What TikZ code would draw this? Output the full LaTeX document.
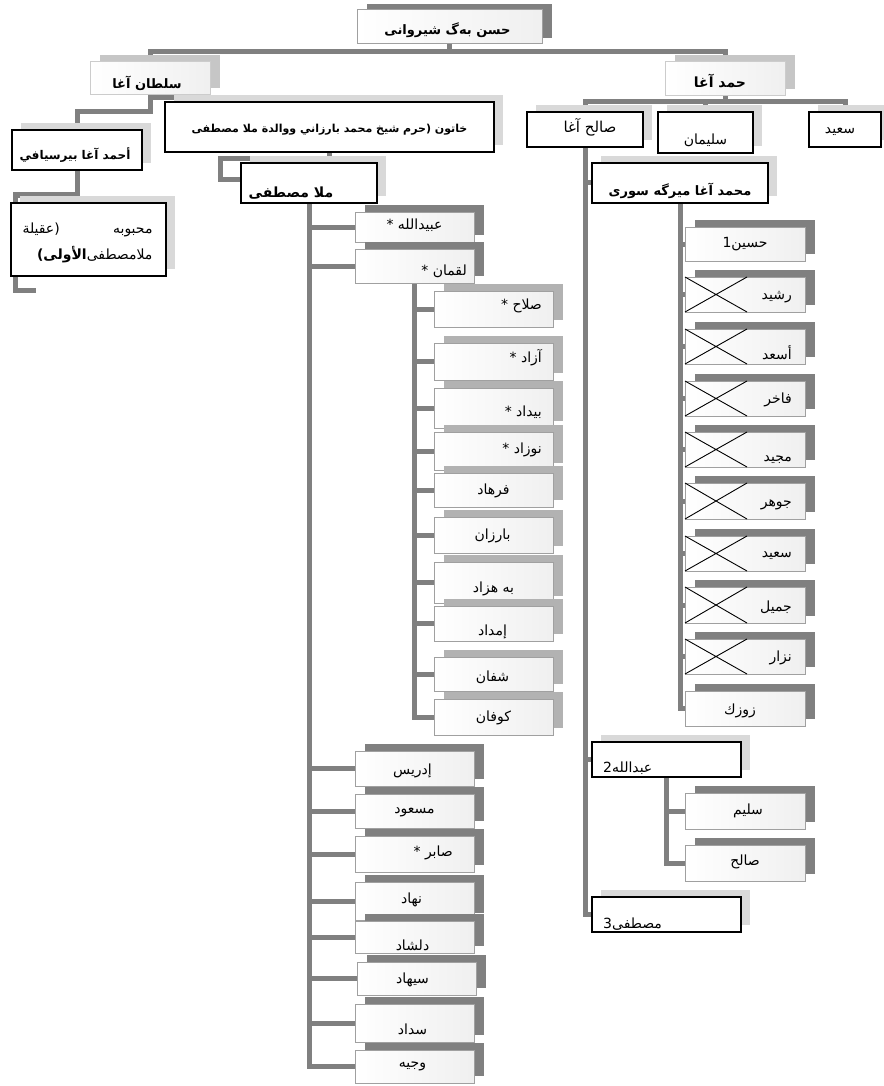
\documentclass[tikz,border=0pt]{standalone}
\usepackage{fontspec}
\usetikzlibrary{shadows}
\TeXXeTstate=1
\newfontfamily\ar[Script=Arabic]{DejaVu Sans}
\pgfdeclarelayer{back}
\pgfdeclarelayer{bg}
\pgfsetlayers{back,bg,main}
\definecolor{lnk}{HTML}{808080}
\definecolor{bord}{HTML}{A0A0A0}
\tikzset{
  base/.style={rectangle, inner sep=0pt, outer sep=0pt},
  conn/.style={draw=lnk, line width=5pt},
  topb/.style={base, draw=bord, line width=1pt, left color=white, right color=gray!12,
    general shadow={fill=lnk, shadow xshift=9.5pt, shadow yshift=6pt}},
  midb/.style={base, draw=gray!40, line width=1pt, left color=white, right color=gray!12,
    general shadow={fill=gray!45, shadow xshift=9.5pt, shadow yshift=6.5pt}},
  blk/.style={base, draw=black, line width=1.3pt, fill=white,
    general shadow={fill=gray!30, shadow xshift=9pt, shadow yshift=7pt}},
  kid/.style={base, draw=bord, line width=1pt, left color=white, right color=gray!12,
    general shadow={fill=lnk, shadow xshift=9.5pt, shadow yshift=7pt}},
  lkid/.style={base, draw=bord, line width=1pt, left color=white, right color=gray!12,
    general shadow={fill=gray!60, shadow xshift=9.5pt, shadow yshift=7pt}},
  txt/.style={inner sep=0pt, yshift=-2.5pt, font=\ar\fontsize{14}{16}\selectfont},
  btxt/.style={inner sep=0pt, font=\ar\bfseries\fontsize{13}{15}\selectfont},
  xm/.style={draw=black, line width=0.9pt}
}
\newcommand\bx[6]{\node[#1,anchor=north west,minimum width={(#5-#3)*1pt},minimum height={(#6-#4)*1pt}] (#2) at (#3,#4) {};}
\newcommand\tx[4][]{\node[txt,#1] (#2t) at #3 {#4};}
\begin{document}
\begin{tikzpicture}[x=1pt,y=-1pt]
\useasboundingbox (0,0) rectangle (883,1086);
\begin{pgfonlayer}{back}
\fill[white] (0,0) rectangle (883,1086);
\end{pgfonlayer}

% ---------- top levels ----------
\bx{topb}{top}{357}{10}{542}{44}
\tx[btxt]{top}{([shift={(-2,1)}]top.center)}{\beginR حسن بەگ شيروانى\endR}
\bx{midb}{sultan}{90}{62}{210}{95}
\tx[btxt]{sultan}{([shift={(-3,2)}]sultan.center)}{\beginR سلطان آغا\endR}
\bx{midb}{hamad}{665}{62}{785}{96}
\tx[btxt,font=\ar\bfseries\fontsize{14}{16}\selectfont]{hamad}{([shift={(-5,0)}]hamad.center)}{\beginR حمد آغا\endR}

\bx{blk}{khatun}{165}{102}{494}{152}
\tx[btxt,font=\ar\bfseries\fontsize{11}{13}\selectfont]{khatun}{([shift={(0,0)}]khatun.center)}{\beginR خاتون \hbox{(}حرم شيخ محمد بارزاني ووالدة ملا مصطفى\endR}
\bx{blk}{ahmad}{12}{130}{142}{170}
\tx[btxt,font=\ar\bfseries\fontsize{12}{14}\selectfont]{ahmad}{([shift={(-2,3)}]ahmad.center)}{\beginR أحمد آغا بيرسيافي\endR}
\bx{blk}{mahb}{11}{203}{166}{276}
\node[txt, font=\ar\fontsize{14}{26}\selectfont, text width=130pt, align=right] (mahbt) at ([shift={(-1,1)}]mahb.center)
  {\hbox to 130pt{\beginR محبوبه\hfill\hbox{(}عقيلة\endR}\\ \beginR ملامصطفى{\bfseries الأولى\hbox{)}}\endR};
\bx{blk}{mulla}{241}{163}{377}{203}
\tx[btxt,font=\ar\bfseries\fontsize{14}{16}\selectfont]{mulla}{([shift={(-18,8)}]mulla.center)}{\beginR ملا مصطفى\endR}

\bx{blk}{salih}{527}{112}{643}{147}
\tx[font=\ar\fontsize{15}{17}\selectfont]{salih}{([shift={(5,-5)}]salih.center)}{\beginR صالح آغا\endR}
\bx{blk}{sulaiman}{658}{112}{753}{153}
\tx{sulaiman}{([shift={(0,5)}]sulaiman.center)}{\beginR سليمان\endR}
\bx{blk}{saeed}{809}{112}{881}{147}
\tx{saeed}{([shift={(-5,0)}]saeed.center)}{\beginR سعيد\endR}
\bx{blk}{mhd}{592}{163}{768}{203}
\tx[btxt]{mhd}{([shift={(0,5)}]mhd.center)}{\beginR محمد آغا ميرگه سورى\endR}

% ---------- children of Mulla Mustafa ----------
\bx{kid}{k1}{355}{212}{474}{242}
\tx{k1}{([shift={(0,-4)}]k1.center)}{\beginR عبيدالله *\endR}
\bx{kid}{k2}{355}{249}{474}{283}
\tx[anchor=east]{k2}{([shift={(-7,3)}]k2.east)}{\beginR لقمان *\endR}

% ---------- children of Luqman ----------
\bx{lkid}{l1}{434}{291}{553}{327}
\tx[anchor=east]{l1}{([shift={(-11,-6)}]l1.east)}{\beginR صلاح *\endR}
\bx{lkid}{l2}{434}{343}{553}{380}
\tx[anchor=east]{l2}{([shift={(-11,-6)}]l2.east)}{\beginR آزاد *\endR}
\bx{lkid}{l3}{434}{388}{553}{428}
\tx[anchor=east]{l3}{([shift={(-11,2)}]l3.east)}{\beginR بيداد *\endR}
\bx{lkid}{l4}{434}{432}{553}{470}
\tx[anchor=east]{l4}{([shift={(-11,-4)}]l4.east)}{\beginR نوزاد *\endR}
\bx{lkid}{l5}{434}{473}{553}{507}
\tx{l5}{([shift={(0,-2)}]l5.center)}{\beginR فرهاد\endR}
\bx{lkid}{l6}{434}{517}{553}{553}
\tx{l6}{([shift={(-1,-2)}]l6.center)}{\beginR بارزان\endR}
\bx{lkid}{l7}{434}{562}{553}{603}
\tx{l7}{([shift={(0,4)}]l7.center)}{\beginR به هزاد\endR}
\bx{lkid}{l8}{434}{606}{553}{641}
\tx{l8}{([shift={(-1,6)}]l8.center)}{\beginR إمداد\endR}
\bx{lkid}{l9}{434}{657}{553}{691}
\tx{l9}{([shift={(-1,1)}]l9.center)}{\beginR شفان\endR}
\bx{lkid}{l10}{434}{699}{553}{735}
\tx{l10}{([shift={(0,-2)}]l10.center)}{\beginR كوفان\endR}

\bx{kid}{k3}{355}{751}{474}{786}
\tx{k3}{([shift={(-2,0)}]k3.center)}{\beginR إدريس\endR}
\bx{kid}{k4}{355}{794}{474}{828}
\tx{k4}{([shift={(0,-1)}]k4.center)}{\beginR مسعود\endR}
\bx{kid}{k5}{355}{836}{474}{872}
\tx[anchor=east]{k5}{([shift={(-21,-4)}]k5.east)}{\beginR صابر *\endR}
\bx{kid}{k6}{355}{882}{474}{920}
\tx{k6}{([shift={(-3,-4)}]k6.center)}{\beginR نهاد\endR}
\bx{kid}{k7}{355}{921}{474}{953}
\tx{k7}{([shift={(-2,6)}]k7.center)}{\beginR دلشاد\endR}
\bx{kid}{k8}{357}{962}{476}{995}
\tx{k8}{([shift={(-4,-1)}]k8.center)}{\beginR سيهاد\endR}
\bx{kid}{k9}{355}{1004}{474}{1042}
\tx{k9}{([shift={(-2,4)}]k9.center)}{\beginR سداد\endR}
\bx{kid}{k10}{355}{1050}{474}{1083}
\tx{k10}{([shift={(-2,-3)}]k10.center)}{\beginR وجيه\endR}

% ---------- children of Muhammad Agha ----------
\bx{kid}{m1}{685}{227}{805}{261}
\tx{m1}{([shift={(0,-2)}]m1.center)}{\beginR حسين1\endR}
\bx{kid}{m2}{685}{277}{805}{312}
\tx[anchor=east]{m2}{([shift={(-13,0)}]m2.east)}{\beginR رشيد\endR}
\bx{kid}{m3}{685}{329}{805}{364}
\tx[anchor=east]{m3}{([shift={(-13,4)}]m3.east)}{\beginR أسعد\endR}
\bx{kid}{m4}{685}{381}{805}{416}
\tx[anchor=east]{m4}{([shift={(-13,-1)}]m4.east)}{\beginR فاخر\endR}
\bx{kid}{m5}{685}{432}{805}{467}
\tx[anchor=east]{m5}{([shift={(-13,8)}]m5.east)}{\beginR مجيد\endR}
\bx{kid}{m6}{685}{483}{805}{519}
\tx[anchor=east]{m6}{([shift={(-13,1)}]m6.east)}{\beginR جوهر\endR}
\bx{kid}{m7}{685}{536}{805}{571}
\tx[anchor=east]{m7}{([shift={(-13,0)}]m7.east)}{\beginR سعيد\endR}
\bx{kid}{m8}{685}{587}{805}{623}
\tx[anchor=east]{m8}{([shift={(-13,0)}]m8.east)}{\beginR جميل\endR}
\bx{kid}{m9}{685}{639}{805}{674}
\tx[anchor=east]{m9}{([shift={(-13,-1)}]m9.east)}{\beginR نزار\endR}
\bx{kid}{m10}{685}{691}{805}{726}
\tx{m10}{([shift={(-5,0)}]m10.center)}{\beginR زوزك\endR}
\foreach \b in {m2,m3,m4,m5,m6,m7,m8,m9}
  \draw[xm] (\b.north west) -- ([xshift=62pt]\b.south west)
            (\b.south west) -- ([xshift=62pt]\b.north west);

% ---------- Abdullah 2, Mustafa 3 ----------
\bx{blk}{abd2}{592}{742}{741}{777}
\tx[anchor=west]{abd2}{([shift={(11,6)}]abd2.west)}{\beginR عبدالله2\endR}
\bx{kid}{a1}{685}{793}{805}{829}
\tx{a1}{([shift={(3,-3)}]a1.center)}{\beginR سليم\endR}
\bx{kid}{a2}{685}{845}{805}{881}
\tx{a2}{([shift={(0,-4)}]a2.center)}{\beginR صالح\endR}
\bx{blk}{mus3}{592}{897}{741}{932}
\tx[anchor=west]{mus3}{([shift={(11,7)}]mus3.west)}{\beginR مصطفى3\endR}

\coordinate (mk) at (15.5,290);
\coordinate (mend) at (36,290);

% ---------- connectors ----------
\begin{pgfonlayer}{bg}
\draw[conn] (top.south) -- ++(0,8) -| (sultan.north);
\draw[conn] (top.south) -- ++(0,8) -| (hamad.north);
\draw[conn] (hamad.south) -- ++(0,6) -| (salih.north);
\draw[conn] (hamad.south) -- ++(0,6) -| (sulaiman.north);
\draw[conn] (hamad.south) -- ++(0,6) -| (saeed.north);
\draw[conn] (sultan.south) -- ++(0,3) -| (khatun.north);
\draw[conn] (sultan.south) -- ++(0,17) -| (ahmad.north);
\draw[conn] (ahmad.south) -- ++(0,25) -| (mk) -- (mend);
\draw[conn] (khatun.south) -- ++(0,7) -| ([xshift=-21pt,yshift=3pt]mulla.west) -- ([yshift=3pt]mulla.west);
\foreach \c in {k1,k2,k3,k4,k5,k6,k7,k8,k9,k10}
  \draw[conn] (mulla.south) |- (\c.west);
\foreach \c in {l1,l2,l3,l4,l5,l6,l7,l8,l9,l10}
  \draw[conn] (k2.south) |- (\c.west);
\foreach \c in {mhd,abd2,mus3}
  \draw[conn] (salih.south) |- (\c.west);
\foreach \c in {m1,m2,m3,m4,m5,m6,m7,m8,m9,m10}
  \draw[conn] (mhd.south) |- (\c.west);
\foreach \c in {a1,a2}
  \draw[conn] (abd2.south) |- (\c.west);
\end{pgfonlayer}
\end{tikzpicture}
\end{document}
